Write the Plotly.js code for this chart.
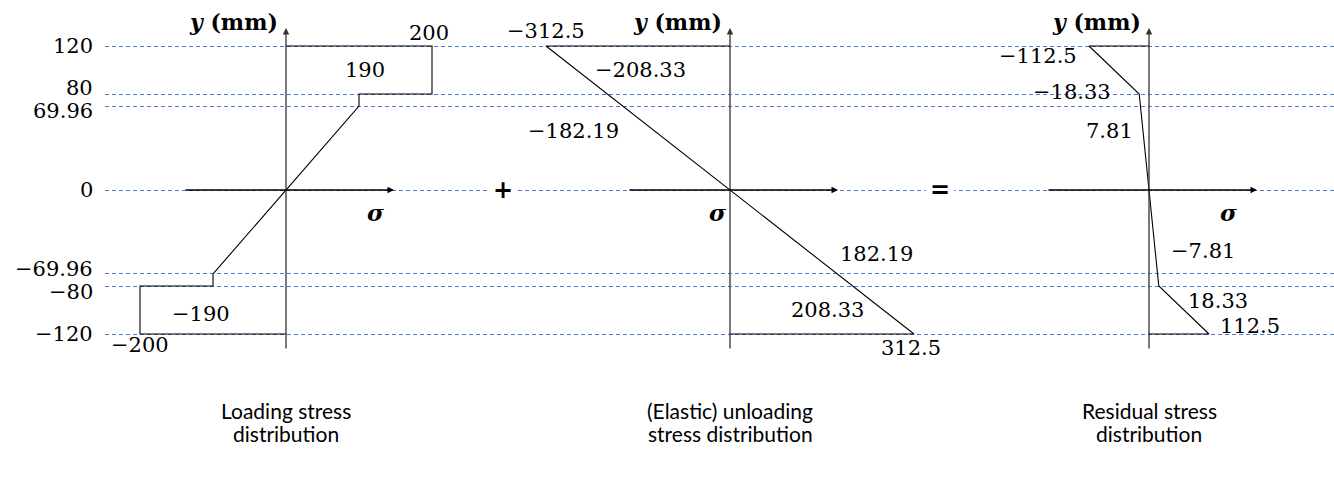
<!DOCTYPE html>
<html>
<head>
<meta charset="utf-8">
<script src="https://cdn.plot.ly/plotly-3.0.1.min.js"></script>
<style>html,body{margin:0;padding:0;background:#fff;}#chart{width:1334px;height:478px;}</style>
</head>
<body>
<div id="chart"></div>
<script>
// ---------------- data ----------------
const yLevels   = [120, 80, 69.96, 0, -69.96, -80, -120];
const yTickText = ['120', '80', '69.96', '0', '\u221269.96', '\u221280', '\u2212120'];

// Loading stress distribution (schematic, category sigma axis)
const loadCategories = ['-200', '-190', '0', '190', '200'];
const loadSigma = [0, 200, 200, 190, 190, 0, -190, -190, -200, -200, 0];
const loadY     = [120, 120, 80, 80, 69.96, 0, -69.96, -80, -80, -120, -120];

// (Elastic) unloading stress distribution
const unloadSigma = [0, -312.5, 312.5, 0];
const unloadY     = [120, 120, -120, -120];

// Residual stress distribution
const resSigma = [0, -112.5, -18.33, 0, 18.33, 112.5, 0];
const resY     = [120, 120, 80, 0, -80, -120, -120];

// value labels: [sigma, y, text]
const loadLabels = [
  [200, 120, '200'], [190, 80, '190'], [-190, -80, '\u2212190'], [-200, -120, '\u2212200']
];
const unloadLabels = [
  [-312.5, 120, '\u2212312.5'], [-208.33, 80, '\u2212208.33'], [-182.19, 69.96, '\u2212182.19'],
  [182.19, -69.96, '182.19'], [208.33, -120, '208.33'], [312.5, -120, '312.5']
];
const resLabels = [
  [-112.5, 120, '\u2212112.5'], [-18.33, 80, '\u221218.33'], [7.81, 69.96, '7.81'],
  [-7.81, -69.96, '\u22127.81'], [18.33, -80, '18.33'], [112.5, -120, '112.5']
];
const panelTitles = [
  ['Loading stress', 'distribution'],
  ['(Elastic) unloading', 'stress distribution'],
  ['Residual stress', 'distribution']
];

// ---------------- layout geometry ----------------
const FW = 1334, FH = 478, L = 105;
const W = FW - L;
const ky = 1.2;                       // px per mm (keeps grid lines on whole pixels)
const topPx = 46;                     // pixel row of y = 120
const yTop = 120 + topPx / ky;
const yBot = yTop - FH / ky;

const d1 = 73;                         // px per category step
const zeroIdx = loadCategories.indexOf('0');
const a1 = zeroIdx - (286 - L) / d1;
const range1 = [a1, a1 + W / d1];
const k2 = 184 / 312.5;
const range2 = [(L - 730) / k2, (FW - 730) / k2];
const k3 = 60 / 112.5;
const range3 = [(L - 1149) / k3, (FW - 1149) / k3];

const numFont = {family: 'DejaVu Serif', size: 21, color: '#000'};
const lineStyle = {color: '#000', width: 1.1};

const traces = [
  {x: loadSigma.map(String), y: loadY, xaxis: 'x', yaxis: 'y', mode: 'lines', line: lineStyle, hoverinfo: 'skip'},
  {x: unloadSigma, y: unloadY, xaxis: 'x2', yaxis: 'y', mode: 'lines', line: lineStyle, hoverinfo: 'skip'},
  {x: resSigma, y: resY, xaxis: 'x3', yaxis: 'y', mode: 'lines', line: lineStyle, hoverinfo: 'skip'}
];

const ann = [];
const axRefs = ['x', 'x2', 'x3'];
const zeroX = [zeroIdx, 0, 0];
const sigmaShift = [89, -13, 79];

// y tick labels as annotations (nudged to avoid overlap of close levels)
const tickNudge = [0, 6, -5, 0, 5, -6, 0];
yLevels.forEach((v, j) => ann.push({xref: 'paper', yref: 'y', x: 0, y: v, xshift: -10, yshift: tickNudge[j],
  xanchor: 'right', yanchor: 'middle', text: yTickText[j], showarrow: false, font: numFont}));

for (let i = 0; i < 3; i++) {
  const xr = axRefs[i];
  // vertical y axis arrow
  ann.push({xref: xr, yref: 'y', x: zeroX[i], y: 120, yshift: 18, ax: 0, ay: 322, axref: 'pixel', ayref: 'pixel',
    text: '', showarrow: true, arrowhead: 2, arrowsize: 1, arrowwidth: 1.3, arrowcolor: '#333'});
  // horizontal sigma axis arrow
  ann.push({xref: xr, yref: 'y', x: zeroX[i], y: 0, xshift: 108, ax: -210, ay: 0, axref: 'pixel', ayref: 'pixel',
    text: '', showarrow: true, arrowhead: 2, arrowsize: 1, arrowwidth: 1.3, arrowcolor: '#000'});
  // y (mm) label
  ann.push({xref: xr, yref: 'y', x: zeroX[i], y: 120, yshift: 24, xshift: -6, xanchor: 'right', yanchor: 'middle',
    text: '<b><i>y</i> (mm)</b>', showarrow: false, font: {family: 'DejaVu Serif', size: 22, color: '#000'}});
  // sigma label
  ann.push({xref: xr, yref: 'y', x: zeroX[i], y: 0, xshift: sigmaShift[i], yshift: -22, xanchor: 'center', yanchor: 'middle',
    text: '<b><i>\u03c3</i></b>', showarrow: false, font: {family: 'DejaVu Serif', size: 23, color: '#000'}});
  // panel title (two lines)
  panelTitles[i].forEach((t, k) => ann.push({xref: xr, yref: 'paper', x: zeroX[i], y: 1 - (410 + 23 * k) / FH,
    xanchor: 'center', yanchor: 'middle', text: t, showarrow: false,
    font: {family: 'Lato', size: 21, color: '#000'}}));
}

// loading labels
const loadPos = [
  {xanchor: 'center', yanchor: 'bottom', xshift: -3, yshift: -1},
  {xanchor: 'center', yanchor: 'bottom', xshift: 6, yshift: 10},
  {xanchor: 'center', yanchor: 'top', xshift: -12, yshift: -14},
  {xanchor: 'center', yanchor: 'top', xshift: 0, yshift: 3}
];
loadLabels.forEach((l, j) => ann.push(Object.assign({xref: 'x', yref: 'y',
  x: loadCategories.indexOf(String(l[0])), y: l[1], text: l[2],
  showarrow: false, font: numFont}, loadPos[j])));

const unloadPos = [
  {xanchor: 'center', yanchor: 'bottom', xshift: 0, yshift: 1},
  {xanchor: 'left', yanchor: 'bottom', xshift: -14, yshift: 10},
  {xanchor: 'right', yanchor: 'top', xshift: -2, yshift: -11},
  {xanchor: 'left', yanchor: 'bottom', xshift: 1, yshift: 6},
  {xanchor: 'right', yanchor: 'bottom', xshift: 13, yshift: 10},
  {xanchor: 'center', yanchor: 'top', xshift: -3, yshift: 0}
];
unloadLabels.forEach((l, j) => ann.push(Object.assign({xref: 'x2', yref: 'y', x: l[0], y: l[1], text: l[2],
  showarrow: false, font: numFont}, unloadPos[j])));

const resPos = [
  {xanchor: 'right', yanchor: 'middle', xshift: -10, yshift: -10},
  {xanchor: 'right', yanchor: 'middle', xshift: -26, yshift: 2},
  {xanchor: 'right', yanchor: 'top', xshift: -18, yshift: -11},
  {xanchor: 'left', yanchor: 'bottom', xshift: 24, yshift: 9},
  {xanchor: 'left', yanchor: 'top', xshift: 27, yshift: -1},
  {xanchor: 'left', yanchor: 'middle', xshift: 9, yshift: 8}
];
resLabels.forEach((l, j) => ann.push(Object.assign({xref: 'x3', yref: 'y', x: l[0], y: l[1], text: l[2],
  showarrow: false, font: numFont}, resPos[j])));

// operators between panels
const opFont = {family: 'DejaVu Sans', size: 24, color: '#000'};
ann.push({xref: 'paper', yref: 'y', x: (503 - L) / W, y: 0, text: '<b>+</b>', showarrow: false, font: opFont,
  bgcolor: '#fff', borderpad: 4, xanchor: 'center', yanchor: 'middle'});
ann.push({xref: 'paper', yref: 'y', x: (940 - L) / W, y: 0, text: '<b>=</b>', showarrow: false, font: opFont,
  bgcolor: '#fff', borderpad: 4, xanchor: 'center', yanchor: 'middle'});

const hiddenX = {showgrid: false, zeroline: false, showticklabels: false, showline: false, ticks: '', fixedrange: true};

const layout = {
  width: FW, height: FH,
  margin: {l: L, r: 0, t: 0, b: 0},
  paper_bgcolor: '#fff', plot_bgcolor: '#fff',
  showlegend: false,
  xaxis: Object.assign({}, hiddenX, {type: 'category', categoryorder: 'array', categoryarray: loadCategories,
    range: range1, domain: [0, 1], anchor: 'y'}),
  xaxis2: Object.assign({}, hiddenX, {type: 'linear', range: range2, overlaying: 'x', anchor: 'y'}),
  xaxis3: Object.assign({}, hiddenX, {type: 'linear', range: range3, overlaying: 'x', anchor: 'y'}),
  yaxis: {
    range: [yBot, yTop], tickmode: 'array', tickvals: yLevels, showticklabels: false,
    showgrid: true, gridcolor: '#4a7bd0', gridwidth: 1, griddash: '4px,3px',
    zeroline: false, showline: false, ticks: '', fixedrange: true
  },
  annotations: ann
};

Plotly.newPlot('chart', traces, layout, {staticPlot: true, displayModeBar: false});
</script>
</body>
</html>
